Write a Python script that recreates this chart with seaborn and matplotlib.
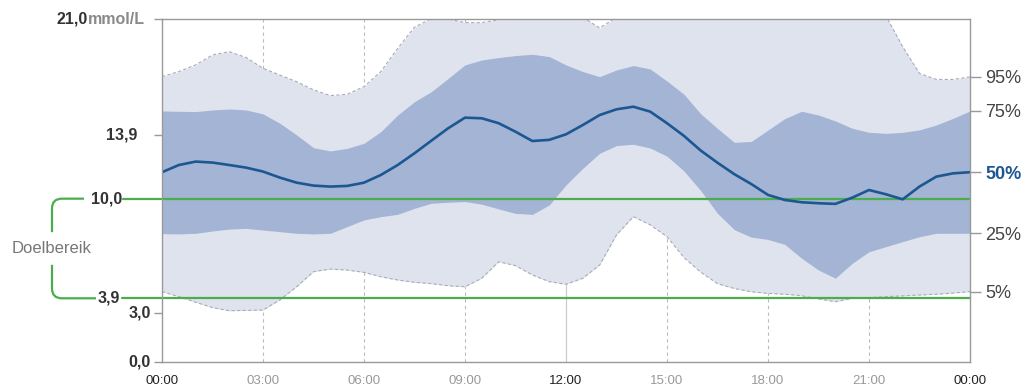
import numpy as np
import pandas as pd
import matplotlib
matplotlib.use("Agg")
import matplotlib.pyplot as plt
import matplotlib.transforms as mtransforms
from matplotlib.path import Path
from matplotlib.patches import PathPatch
import seaborn as sns

# time of day in hours, half-hour steps
hours = [0, 0.5, 1, 1.5, 2, 2.5, 3, 3.5, 4, 4.5, 5, 5.5, 6, 6.5, 7, 7.5,
         8, 8.5, 9, 9.5, 10, 10.5, 11, 11.5, 12, 12.5, 13, 13.5, 14, 14.5,
         15, 15.5, 16, 16.5, 17, 17.5, 18, 18.5, 19, 19.5, 20, 20.5, 21,
         21.5, 22, 22.5, 23, 23.5, 24]

# glucose percentiles (mmol/L)
p95 = [17.47, 17.78, 18.19, 18.8, 19.0, 18.64, 17.98, 17.57, 17.16, 16.66,
       16.31, 16.39, 16.86, 17.78, 19.2, 20.5, 21.02, 21.0, 20.78, 20.78,
       20.95, 21.6, 21.6, 21.6, 21.6, 21.1, 20.45, 21.1, 21.6, 21.6,
       21.6, 21.6, 21.6, 21.6, 21.6, 21.6, 21.6, 21.6, 21.6, 21.6,
       21.6, 21.6, 21.6, 21.2, 19.3, 17.67, 17.3, 17.3, 17.45]
p75 = [15.37, 15.35, 15.33, 15.43, 15.49, 15.43, 15.19, 14.62, 13.9, 13.12,
       12.92, 13.08, 13.39, 14.1, 15.12, 15.94, 16.55, 17.36, 18.19, 18.49,
       18.64, 18.76, 18.84, 18.7, 18.19, 17.78, 17.47, 17.88, 18.15, 17.94,
       17.2, 16.4, 15.2, 14.3, 13.45, 13.5, 14.2, 14.9, 15.35, 15.12,
       14.76, 14.31, 14.06, 14.0, 14.06, 14.21, 14.51, 14.92, 15.37]
p50 = [11.62, 12.06, 12.27, 12.21, 12.06, 11.9, 11.66, 11.29, 10.98, 10.8,
       10.74, 10.78, 10.98, 11.45, 12.06, 12.78, 13.55, 14.31, 14.96, 14.92,
       14.62, 14.1, 13.53, 13.6, 13.94, 14.51, 15.12, 15.47, 15.63, 15.33,
       14.62, 13.85, 12.95, 12.2, 11.5, 10.9, 10.23, 9.92, 9.78, 9.72,
       9.68, 10.06, 10.53, 10.27, 9.96, 10.74, 11.35, 11.55, 11.62]
p25 = [7.86, 7.84, 7.88, 8.02, 8.14, 8.18, 8.08, 7.98, 7.88, 7.84,
       7.88, 8.29, 8.7, 8.9, 9.04, 9.41, 9.72, 9.78, 9.82, 9.66,
       9.37, 9.1, 9.04, 9.61, 10.84, 11.86, 12.78, 13.25, 13.33, 13.1,
       12.6, 11.7, 10.5, 9.1, 8.1, 7.65, 7.5, 7.2, 6.35, 5.63,
       5.13, 6.04, 6.75, 7.06, 7.37, 7.67, 7.88, 7.88, 7.88]
p5 = [4.31, 4.0, 3.66, 3.33, 3.14, 3.16, 3.18, 3.8, 4.61, 5.53,
      5.69, 5.63, 5.49, 5.22, 5.02, 4.88, 4.8, 4.67, 4.61, 5.13,
      6.14, 5.9, 5.33, 4.92, 4.76, 5.13, 5.94, 7.78, 8.9, 8.4,
      7.67, 6.4, 5.5, 4.8, 4.5, 4.3, 4.2, 4.15, 4.06, 3.86,
      3.69, 3.9, 3.94, 4.0, 4.05, 4.1, 4.15, 4.22, 4.31]

target_low, target_high = 3.9, 10.0
x_ticks = [0, 3, 6, 9, 12, 15, 18, 21, 24]
x_labels = ["00:00", "03:00", "06:00", "09:00", "12:00", "15:00", "18:00", "21:00", "00:00"]
pct_labels = ["95%", "75%", "50%", "25%", "5%"]

df = pd.DataFrame({"hour": hours, "p5": p5, "p25": p25, "p50": p50,
                   "p75": p75, "p95": p95})

sns.set_style("white")
plt.rcParams["font.family"] = ["Liberation Sans", "DejaVu Sans"]

W, H = 1026, 390
fig = plt.figure(figsize=(W / 100, H / 100), dpi=100)
ax = fig.add_axes([162 / W, 1 - 362 / H, 808 / W, 343 / H])

light = "#dfe3ee"
dark = "#a3b4d5"
blue = "#1d5791"
green = "#4cad4c"
edge = "#a9adb8"

# vertical guides
for t in x_ticks[1:-1]:
    if t == 12:
        ax.axvline(t, color="#cccccc", lw=0.9, zorder=0)
    else:
        ax.axvline(t, color="#bbbbbb", lw=0.8, ls=(0, (3, 3)), zorder=0)

ax.fill_between(df["hour"], df["p5"], df["p95"], color=light, lw=0, zorder=1)
ax.fill_between(df["hour"], df["p25"], df["p75"], color=dark, lw=0, zorder=2)
ax.plot(df["hour"], df["p95"], color=edge, lw=0.8, ls=(0, (3, 2)), zorder=2)
ax.plot(df["hour"], df["p5"], color=edge, lw=0.8, ls=(0, (3, 2)), zorder=2)

# target range lines (extend left of the axes)
blend = mtransforms.blended_transform_factory(fig.transFigure, ax.transData)
for val, x0 in [(target_high, 123), (target_low, 122)]:
    ax.plot([x0 / W, 970 / W], [val, val], color=green, lw=1.6,
            transform=blend, clip_on=False, zorder=3)

sns.lineplot(data=df, x="hour", y="p50", ax=ax, color=blue, lw=1.9, zorder=4)

ax.set_xlim(0, 24)
ax.set_ylim(0, 21)
ax.set_xlabel("")
ax.set_ylabel("")

for s in ax.spines.values():
    s.set_color("#999999")
    s.set_linewidth(1.0)
    s.set_zorder(5)

ax.set_xticks(x_ticks)
ax.set_xticklabels(x_labels, fontsize=9.5)
for lbl, t in zip(ax.get_xticklabels(), x_ticks):
    lbl.set_color("#222222" if t in (0, 12, 24) else "#999999")
ax.tick_params(axis="x", length=0, pad=9)

# left axis: tick marks only, labels drawn as text
ax.set_yticks([0, 3, 13.9, 21])
ax.set_yticklabels([])
ax.tick_params(axis="y", length=6, width=1, color="#999999")

lab = dict(transform=blend, ha="right", va="center", fontsize=11.5,
           fontweight="bold", color="#333333")
ax.text(88 / W, 21, "21,0", **lab)
ax.text(88 / W, 21, "mmol/L", transform=blend, ha="left", va="center",
        fontsize=11.5, fontweight="bold", color="#8a8a8a")
ax.text(137 / W, 13.9, "13,9", **lab)
ax.text(122 / W, 10.0, "10,0", **lab)
ax.text(120 / W, 3.9, "3,9", **lab)
ax.text(151 / W, 3.0, "3,0", **lab)
ax.text(151 / W, 0.0, "0,0", **lab)

# Doelbereik bracket
r = 0.6
top = Path([(84 / W, target_high), (62 / W, target_high), (52 / W, target_high),
            (52 / W, target_high - r), (52 / W, 7.95)],
           [Path.MOVETO, Path.LINETO, Path.CURVE3, Path.CURVE3, Path.LINETO])
bot = Path([(52 / W, 5.95), (52 / W, target_low + r), (52 / W, target_low),
            (62 / W, target_low), (96 / W, target_low)],
           [Path.MOVETO, Path.LINETO, Path.CURVE3, Path.CURVE3, Path.LINETO])
for p in (top, bot):
    fig.add_artist(PathPatch(p, transform=blend, fill=False, edgecolor=green,
                             lw=1.6, clip_on=False))
ax.text(52 / W, 6.95, "Doelbereik", transform=blend, ha="center", va="center",
        fontsize=12, color="#777777")

# right axis: percentile labels at the end values
ax2 = ax.twinx()
ax2.set_ylim(0, 21)
ends = [p95[-1], p75[-1], p50[-1], p25[-1], p5[-1]]
ax2.set_yticks(ends)
ax2.set_yticklabels(pct_labels, fontsize=13, color="#444444")
ax2.tick_params(axis="y", length=8, width=1, color="#999999", pad=3)
for lbl in ax2.get_yticklabels():
    if lbl.get_text() == "50%":
        lbl.set_fontweight("bold")
        lbl.set_color(blue)
for s in ax2.spines.values():
    s.set_visible(False)

fig.savefig("out.png", dpi=100)
